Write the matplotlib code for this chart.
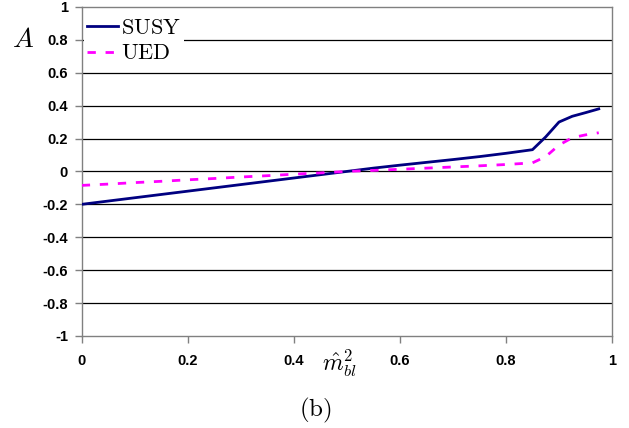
import matplotlib
matplotlib.use("Agg")
import matplotlib.pyplot as plt

plt.rcParams["mathtext.fontset"] = "cm"

# Asymmetry A versus normalised invariant mass squared
m2 = [0.0, 0.05, 0.10, 0.15, 0.20, 0.25, 0.30, 0.35, 0.40, 0.45, 0.50,
      0.55, 0.60, 0.65, 0.70, 0.75, 0.80, 0.85, 0.875, 0.90, 0.925, 0.95, 0.975]
susy = [-0.200, -0.180, -0.160, -0.140, -0.120, -0.100, -0.080, -0.060, -0.040,
        -0.020, 0.000, 0.020, 0.038, 0.055, 0.072, 0.090, 0.110, 0.132,
        0.210, 0.300, 0.335, 0.357, 0.380]
ued = [-0.085, -0.077, -0.068, -0.060, -0.051, -0.043, -0.034, -0.026, -0.017,
       -0.009, 0.000, 0.006, 0.013, 0.020, 0.027, 0.034, 0.042, 0.052,
       0.090, 0.160, 0.205, 0.222, 0.235]

xticks = [0, 0.2, 0.4, 0.6, 0.8, 1]
xtick_labels = ["0", "0.2", "0.4", "0.6", "0.8", "1"]
yticks = [-1, -0.8, -0.6, -0.4, -0.2, 0, 0.2, 0.4, 0.6, 0.8, 1]
ytick_labels = ["-1", "-0.8", "-0.6", "-0.4", "-0.2", "0", "0.2", "0.4", "0.6", "0.8", "1"]

fig = plt.figure(figsize=(6.29, 4.28), dpi=100)
ax = fig.add_axes([0.130, 0.215, 0.843, 0.769])

gray = "#808080"
for y in yticks[1:-1]:
    ax.axhline(y, color="black", lw=0.9, zorder=1)

ax.plot(m2, susy, color="#000080", lw=2.0, zorder=3,
        label=r"$\mathrm{SUSY}$")
ax.plot(m2, ued, color="#ff00ff", lw=2.0, ls=(0, (3, 3.5)), zorder=3,
        label=r"$\mathrm{UED}$")

ax.set_xlim(0, 1)
ax.set_ylim(-1, 1)
ax.set_xticks(xticks)
ax.set_xticklabels(xtick_labels)
ax.set_yticks(yticks)
ax.set_yticklabels(ytick_labels)

for s in ax.spines.values():
    s.set_color(gray)
    s.set_linewidth(1.0)

ax.tick_params(axis="both", direction="out", color=gray, length=5, width=1.0,
               labelsize=10.5)
ax.tick_params(axis="x", pad=8)
ax.tick_params(axis="y", pad=5)
for lab in ax.get_xticklabels() + ax.get_yticklabels():
    lab.set_fontfamily("Liberation Sans")
    lab.set_fontweight("bold")

leg = ax.legend(loc="upper left", bbox_to_anchor=(-0.005, 0.99), frameon=True,
                fontsize=16, handlelength=1.4, handletextpad=0.15,
                labelspacing=0.25, borderpad=0.15, borderaxespad=0.2)
leg.get_frame().set_edgecolor("none")
leg.get_frame().set_facecolor("white")
leg.get_frame().set_alpha(1.0)

fig.text(0.037, 0.91, r"$A$", fontsize=20, ha="center", va="center")
fig.text(0.540, 0.150, r"$\hat{m}^2_{bl}$", fontsize=17, ha="center", va="center")
fig.text(0.502, 0.04, r"$\mathrm{(b)}$", fontsize=18, ha="center", va="center")

fig.savefig("out.png", dpi=100)
